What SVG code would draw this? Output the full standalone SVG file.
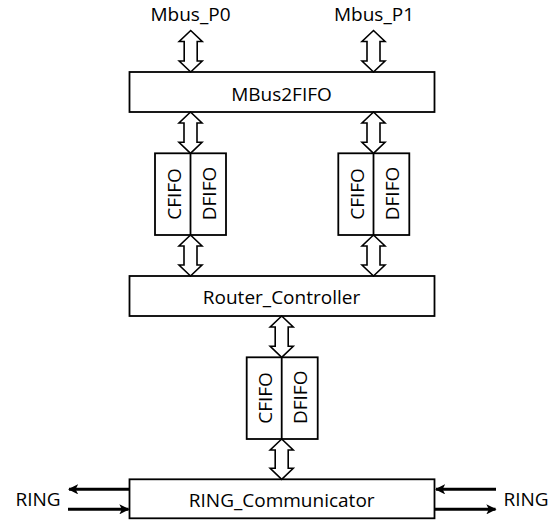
<svg xmlns="http://www.w3.org/2000/svg" width="556" height="520" viewBox="0 0 556 520">
  <defs>
    <style>
      .box { fill: #ffffff; stroke: #000000; stroke-width: 1.8; }
      .bus { fill: #ffffff; stroke: #000000; stroke-width: 1.6; stroke-linejoin: miter; }
      .wire { fill: none; stroke: #000000; stroke-width: 3; }
      .lbl { font-family: "Open Sans", "Noto Sans", "Liberation Sans", sans-serif; font-size: 19px; fill: #000000; text-anchor: middle; }
    </style>
    <marker id="head" viewBox="0 0 10 10" refX="9" refY="5" markerWidth="3.4" markerHeight="3.4" orient="auto" markerUnits="strokeWidth">
      <path d="M0,0 L10,5 L0,10 L2.5,5 Z" fill="#000000"/>
    </marker>
  </defs>

  <rect width="556" height="520" fill="#ffffff"/>

  <!-- external port labels -->
  <g id="port-p0"><text class="lbl" x="190.5" y="20.7">Mbus_P0</text></g>
  <g id="port-p1"><text class="lbl" x="374" y="20.7">Mbus_P1</text></g>
  <g id="ring-left"><text class="lbl" x="38" y="506">RING</text></g>
  <g id="ring-right"><text class="lbl" x="526" y="506">RING</text></g>

  <!-- blocks -->
  <g id="mbus2fifo">
    <rect class="box" x="129.5" y="72" width="305" height="40"/>
    <text class="lbl" x="281.5" y="100.5">MBus2FIFO</text>
  </g>

  <g id="fifo-p0">
    <rect class="box" x="155" y="153.3" width="71" height="81.7"/>
    <line x1="190.5" y1="153.3" x2="190.5" y2="235" stroke="#000" stroke-width="1.8"/>
    <text class="lbl" transform="translate(180.6,194) rotate(-90)">CFIFO</text>
    <text class="lbl" transform="translate(215.5,193.5) rotate(-90)">DFIFO</text>
  </g>

  <g id="fifo-p1">
    <rect class="box" x="338.3" y="153.3" width="71" height="81.7"/>
    <line x1="373.5" y1="153.3" x2="373.5" y2="235" stroke="#000" stroke-width="1.8"/>
    <text class="lbl" transform="translate(364,194) rotate(-90)">CFIFO</text>
    <text class="lbl" transform="translate(398.5,193.5) rotate(-90)">DFIFO</text>
  </g>

  <g id="router-controller">
    <rect class="box" x="129.5" y="276" width="305" height="40"/>
    <text class="lbl" x="281.5" y="304">Router_Controller</text>
  </g>

  <g id="fifo-ring">
    <rect class="box" x="246.7" y="357.3" width="71" height="81.7"/>
    <line x1="281.7" y1="357.3" x2="281.7" y2="439" stroke="#000" stroke-width="1.8"/>
    <text class="lbl" transform="translate(272.3,398) rotate(-90)">CFIFO</text>
    <text class="lbl" transform="translate(306.7,397.3) rotate(-90)">DFIFO</text>
  </g>

  <g id="ring-communicator">
    <rect class="box" x="129.5" y="479.3" width="305" height="39"/>
    <text class="lbl" x="281.7" y="506.7">RING_Communicator</text>
  </g>

  <!-- connectors: bidirectional bus arrows and ring links -->
  <g id="connectors">
    <path class="bus" d="M190.7,30.5 L202.2,41.5 L197.2,41.5 L197.2,61 L202.2,61 L190.7,72 L179.2,61 L184.2,61 L184.2,41.5 L179.2,41.5 Z"/>
    <path class="bus" d="M373.5,30.5 L385,41.5 L380,41.5 L380,61 L385,61 L373.5,72 L362,61 L367,61 L367,41.5 L362,41.5 Z"/>

    <path class="bus" d="M190.5,112 L202,123 L197,123 L197,142.3 L202,142.3 L190.5,153.3 L179,142.3 L184,142.3 L184,123 L179,123 Z"/>
    <path class="bus" d="M373.5,112 L385,123 L380,123 L380,142.3 L385,142.3 L373.5,153.3 L362,142.3 L367,142.3 L367,123 L362,123 Z"/>

    <path class="bus" d="M190.5,235 L202,246 L197,246 L197,265 L202,265 L190.5,276 L179,265 L184,265 L184,246 L179,246 Z"/>
    <path class="bus" d="M373.5,235 L385,246 L380,246 L380,265 L385,265 L373.5,276 L362,265 L367,265 L367,246 L362,246 Z"/>

    <path class="bus" d="M281.7,316 L293.2,327 L288.2,327 L288.2,346.3 L293.2,346.3 L281.7,357.3 L270.2,346.3 L275.2,346.3 L275.2,327 L270.2,327 Z"/>
    <path class="bus" d="M281.7,439 L293.2,450 L288.2,450 L288.2,468.3 L293.2,468.3 L281.7,479.3 L270.2,468.3 L275.2,468.3 L275.2,450 L270.2,450 Z"/>

    <line class="wire" x1="129.5" y1="489.3" x2="69" y2="489.3" marker-end="url(#head)"/>
    <line class="wire" x1="68" y1="509.3" x2="128.5" y2="509.3" marker-end="url(#head)"/>
    <line class="wire" x1="496" y1="489.3" x2="436" y2="489.3" marker-end="url(#head)"/>
    <line class="wire" x1="435" y1="509.3" x2="495.5" y2="509.3" marker-end="url(#head)"/>
  </g>
</svg>
